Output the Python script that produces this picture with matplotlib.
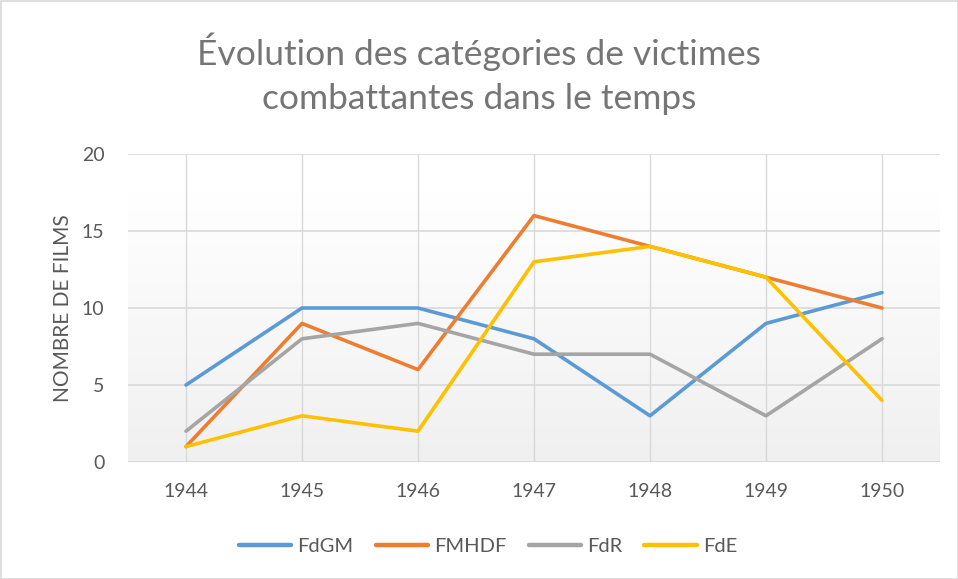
import matplotlib
matplotlib.use("Agg")
import matplotlib.pyplot as plt
import numpy as np
from matplotlib.patches import Rectangle

years = ["1944", "1945", "1946", "1947", "1948", "1949", "1950"]
FdGM = [5, 10, 10, 8, 3, 9, 11]
FMHDF = [1, 9, 6, 16, 14, 12, 10]
FdR = [2, 8, 9, 7, 7, 3, 8]
FdE = [1, 3, 2, 13, 14, 12, 4]

series = [("FdGM", FdGM, "#5B9BD5"), ("FMHDF", FMHDF, "#ED7D31"),
          ("FdR", FdR, "#A5A5A5"), ("FdE", FdE, "#FFC000")]

plt.rcParams['font.family'] = ['Lato', 'DejaVu Sans']
W, H = 958, 579
fig = plt.figure(figsize=(W/100, H/100), dpi=100)
fig.patches.append(Rectangle((0.5/W, 0.5/H), 1-1/W, 1-1/H, transform=fig.transFigure,
                             fill=False, edgecolor="#D9D9D9", lw=1.2))

ax = fig.add_axes([128/W, 1-462/H, (940-128)/W, (462-154)/H])
x = np.arange(len(years))
ax.set_xlim(-0.5, len(years)-0.5)
ax.set_ylim(0, 20)

# gradient background
grad = np.linspace(0, 1, 256).reshape(-1, 1)
cmap = matplotlib.colors.LinearSegmentedColormap.from_list("g", ["#F0F0F0", "#FFFFFF"])
ax.imshow(grad, extent=(-0.5, len(years)-0.5, 0, 17.5), origin="lower", cmap=cmap,
          aspect="auto", zorder=0)

for v in [5, 10, 15, 20]:
    ax.axhline(v, color="#D9D9D9", lw=1.2, zorder=1)
for xi in x:
    ax.axvline(xi, color="#D9D9D9", lw=1.0, zorder=1)
ax.axhline(0, color="#D9D9D9", lw=1.5, zorder=1)

for name, vals, col in series:
    ax.plot(x, vals, color=col, lw=2.6, label=name, zorder=3, solid_capstyle="round")

for s in ax.spines.values():
    s.set_visible(False)
ax.set_xticks(x)
ax.set_xticklabels(years)
ax.set_yticks([0, 5, 10, 15, 20])
ax.tick_params(length=0, labelsize=14, labelcolor="#595959")
ax.tick_params(axis='x', pad=15)
ax.tick_params(axis='y', pad=17)
ax.set_ylabel("NOMBRE DE FILMS", fontsize=15, color="#595959", labelpad=6)

fig.text(0.5, 1-52/H, "Évolution des catégories de victimes", ha="center", va="center",
         fontsize=25.5, color="#757575")
fig.text(0.5, 1-99/H, "combattantes dans le temps", ha="center", va="center",
         fontsize=25.5, color="#757575")

leg = fig.legend(loc="center", bbox_to_anchor=(488/W, 1-546/H), ncol=4, frameon=False,
                 fontsize=14.5, handlelength=2.6, columnspacing=1.1, handletextpad=0.3)
for t in leg.get_texts():
    t.set_color("#595959")
for l in leg.get_lines():
    l.set_linewidth(3.2)

fig.savefig("out.png", dpi=100)
